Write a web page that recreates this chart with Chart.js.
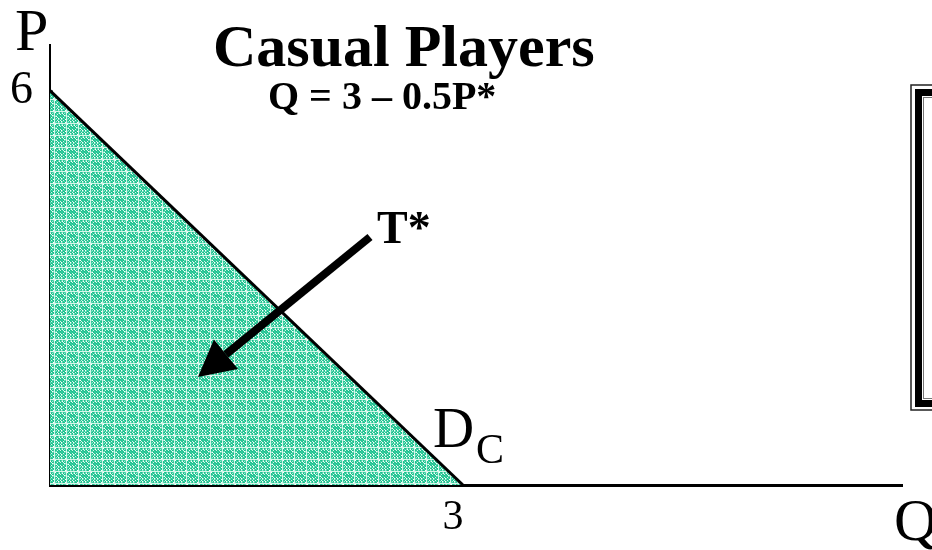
<!DOCTYPE html>
<html>
<head>
<meta charset="utf-8">
<script src="https://cdn.jsdelivr.net/npm/chart.js@4.4.1/dist/chart.umd.min.js"></script>
<style>
  html, body { margin: 0; padding: 0; background: #fff; overflow: hidden; }
  #chart { display: block; }
</style>
</head>
<body>
<canvas id="chart" width="932" height="550"></canvas>
<script>
// demand curve for casual players: Q = 3 - 0.5P
const demandQ = [0, 3];
const demandP = [6, 0];
// left edge of the shaded area (drawn heavier)
const edgeQ = [0, 0];
const edgeP = [0, 6];
const xTicks = [3];
const yTicks = [6];
const xMax = 6.19;
const yMax = 6.7;

const serif = '"Liberation Serif", "Times New Roman", serif';

// speckled teal fill like the slide's texture
function makePattern() {
    const n = 12;
    const c = document.createElement('canvas');
    c.width = n; c.height = n;
    const g = c.getContext('2d');
    const cols = ['#2dcb99', '#66dab5', '#ffffff', '#19bb8a', '#a3e9d1', '#3ccfa2', '#d6f6ea', '#24c493', '#4fd4aa'];
    for (let i = 0; i < n; i++) {
        for (let j = 0; j < n; j++) {
            const k = ((i * 7 + 3) * (j * 11 + 5) + i * 13) % cols.length;
            g.fillStyle = cols[k];
            g.fillRect(i, j, 1, 1);
        }
    }
    return g.createPattern(c, 'repeat');
}

const annotations = {
    id: 'annotations',
    afterDraw(chart) {
        const ctx = chart.ctx;
        ctx.save();
        ctx.fillStyle = '#000';
        ctx.textBaseline = 'alphabetic';
        ctx.textAlign = 'left';

        // axis letters
        ctx.font = '60px ' + serif;
        ctx.fillText('P', 15, 50);
        ctx.fillText('Q', 894, 540);

        // title + equation
        ctx.font = 'bold 60px ' + serif;
        ctx.fillText('Casual Players', 213, 66);
        ctx.font = 'bold 40px ' + serif;
        ctx.fillText('Q = 3 \u2013 0.5P*', 268, 109);

        // demand label
        ctx.font = '57px ' + serif;
        ctx.fillText('D', 433, 447);
        ctx.font = '42px ' + serif;
        ctx.fillText('C', 476, 463);

        // T* label and arrow
        ctx.font = 'bold 46px ' + serif;
        ctx.fillText('T*', 377, 243);

        const x0 = 370, y0 = 237, x1 = 198, y1 = 377;
        const ang = Math.atan2(y1 - y0, x1 - x0);
        const headLen = 36, headW = 19;
        const bx = x1 - headLen * Math.cos(ang), by = y1 - headLen * Math.sin(ang);
        ctx.strokeStyle = '#000';
        ctx.lineWidth = 8;
        ctx.beginPath();
        ctx.moveTo(x0, y0);
        ctx.lineTo(bx, by);
        ctx.stroke();
        ctx.beginPath();
        ctx.moveTo(x1, y1);
        ctx.lineTo(bx + headW * Math.sin(ang), by - headW * Math.cos(ang));
        ctx.lineTo(bx - headW * Math.sin(ang), by + headW * Math.cos(ang));
        ctx.closePath();
        ctx.fill();

        // framed box cut off at the right edge
        ctx.lineWidth = 1.5;
        ctx.strokeStyle = '#222';
        ctx.strokeRect(911, 85, 60, 325);
        ctx.lineWidth = 7;
        ctx.strokeStyle = '#000';
        ctx.strokeRect(918.5, 92.5, 60, 311);
        ctx.lineWidth = 1;
        ctx.strokeStyle = '#777';
        ctx.strokeRect(923.5, 97.5, 60, 301);
        ctx.restore();
    }
};

const ctx = document.getElementById('chart').getContext('2d');
new Chart(ctx, {
    type: 'scatter',
    data: {
        datasets: [{
            label: 'D_C',
            data: demandQ.map((q, i) => ({ x: q, y: demandP[i] })),
            showLine: true,
            fill: 'origin',
            backgroundColor: makePattern(),
            borderColor: '#000',
            borderWidth: 3,
            pointRadius: 0,
            tension: 0
        }, {
            label: 'edge',
            data: edgeQ.map((q, i) => ({ x: q, y: edgeP[i] })),
            showLine: true,
            fill: false,
            borderColor: '#000',
            borderWidth: 6,
            pointRadius: 0
        }]
    },
    options: {
        responsive: false,
        animation: false,
        layout: { padding: { left: 0, top: 44, right: 30, bottom: 0 } },
        plugins: {
            legend: { display: false },
            tooltip: { enabled: false }
        },
        scales: {
            x: {
                type: 'linear',
                min: 0,
                max: xMax,
                grid: { display: false, drawTicks: false },
                border: { display: true, color: '#000', width: 3 },
                afterBuildTicks: (s) => { s.ticks = xTicks.map(v => ({ value: v })); },
                afterFit: (s) => { s.height = 65; },
                ticks: {
                    color: '#000',
                    padding: 8,
                    labelOffset: -10,
                    maxRotation: 0,
                    font: { family: serif, size: 42 }
                }
            },
            y: {
                type: 'linear',
                min: 0,
                max: yMax,
                grid: { display: false, drawTicks: false },
                border: { display: true, color: '#000', width: 2 },
                afterBuildTicks: (s) => { s.ticks = yTicks.map(v => ({ value: v })); },
                afterFit: (s) => { s.width = 50; },
                ticks: {
                    color: '#000',
                    padding: 17,
                    font: { family: serif, size: 46 }
                }
            }
        }
    },
    plugins: [annotations]
});
</script>
</body>
</html>
